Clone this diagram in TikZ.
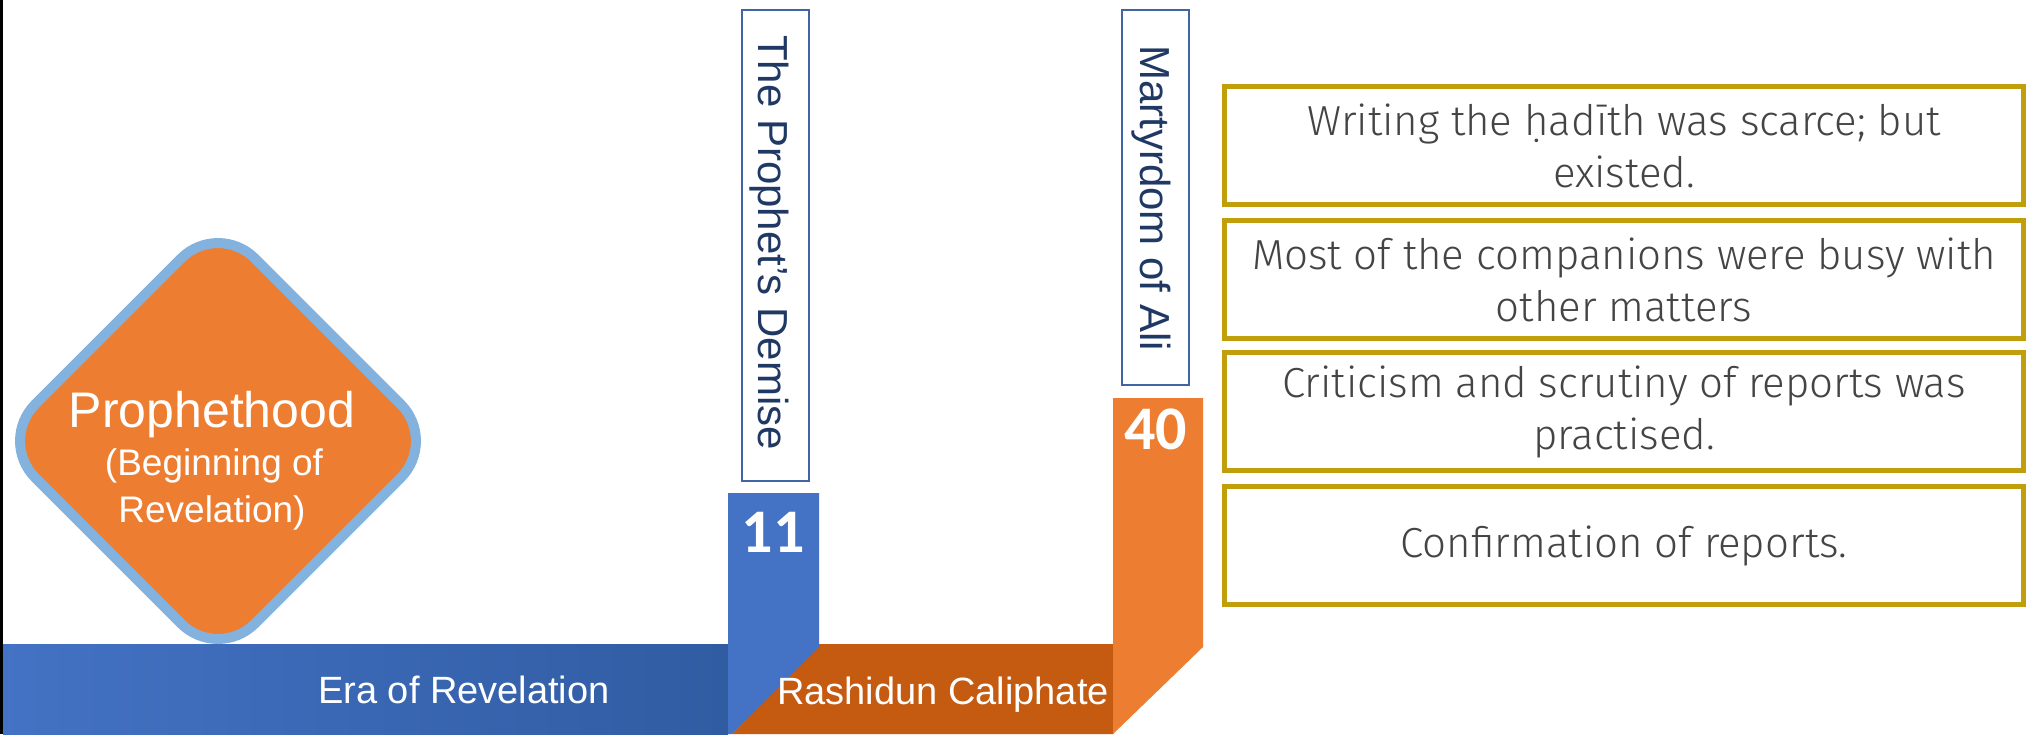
\documentclass[tikz,border=0pt]{standalone}
\usepackage{fontspec}
\setmainfont{Liberation Sans}
\newfontfamily\numfont{Carlito}
\IfFontExistsTF{Fira Sans Light}{\newfontfamily\lightfont{Fira Sans Light}}{\newfontfamily\lightfont{Liberation Sans}}
\definecolor{barblue}{RGB}{68,114,196}
\definecolor{bardark}{RGB}{48,92,162}
\definecolor{colblue}{RGB}{68,114,196}
\definecolor{rashbrown}{RGB}{197,90,17}
\definecolor{orng}{RGB}{237,125,49}
\definecolor{lblue}{RGB}{132,178,222}
\definecolor{goldline}{RGB}{192,158,12}
\definecolor{navytxt}{RGB}{31,56,100}
\definecolor{lboxline}{RGB}{65,100,165}
\definecolor{txtgray}{RGB}{68,68,68}
\begin{document}
\begin{tikzpicture}[x=1pt,y=-1pt,
  gbox/.style={draw=goldline, line width=5pt, minimum width=799pt, minimum height=118pt,
    align=center, text=txtgray, inner sep=0pt, font=\lightfont\fontsize{42}{52}\selectfont},
  labelbox/.style={draw=lboxline, line width=1.3pt, minimum width=67pt, inner sep=0pt},
  vlabel/.style={rotate=-90, anchor=base west, inner sep=0pt, text=navytxt, font=\fontsize{42}{50}\selectfont},
  numtxt/.style={anchor=base, inner sep=0pt, text=white, font=\numfont\bfseries\fontsize{62}{70}\selectfont},
  bartxt/.style={inner sep=0pt, text=white, font=\fontsize{38}{45}\selectfont},
  diamtxt/.style={anchor=base, inner sep=0pt, text=white}]
\useasboundingbox (0,0) rectangle (2034,734);
\fill[white] (0,0) rectangle (2034,734);
\fill[black] (0,0) rectangle (3,734);
% bars
\shade[left color=barblue, right color=bardark] (3,644) rectangle (728,734);
\fill[rashbrown] (819,644) -- (1113,644) -- (1113,734) -- (732,734) -- cycle;
\fill[colblue] (728,493) -- (819,493) -- (819,647) -- (732,734) -- (728,734) -- cycle;
\fill[orng] (1113,398) -- (1203,398) -- (1203,647) -- (1113,734) -- cycle;
% diamond
\draw[line width=10pt, draw=lblue, fill=orng, rounded corners=52pt, rotate around={45:(218,441)}]
  (62.8,285.8) rectangle (373.2,596.2);
\node[diamtxt, font=\fontsize{50}{60}\selectfont] (proph) at (212,427) {Prophethood};
\node[diamtxt, font=\fontsize{37}{44}\selectfont] (begin) at (214,475) {(Beginning of};
\node[diamtxt, font=\fontsize{37}{44}\selectfont] (revel) at (212,522) {Revelation)};
% vertical labels
\node[labelbox, minimum height=471pt] (demisebox) at (775.5,245.5) {};
\node[vlabel] (demise) at (758,35) {The Prophet’s Demise};
\node[labelbox, minimum height=375pt] (alibox) at (1155.5,197.5) {};
\node[vlabel] (ali) at (1140,45) {Martyrdom of Ali};
% numbers
\node[numtxt] (n11) at (773,552) {11};
\node[numtxt] (n40) at (1155.5,449) {40};
% bar texts
\node[bartxt, anchor=base] (era) at (464,703) {Era of Revelation};
\node[bartxt, anchor=base west] (rash) at (777,704) {Rashidun Caliphate};
% right boxes
\node[gbox] (b1) at (1624,145.5) {Writing the ḥadīth was scarce; but\\existed.};
\node[gbox] (b2) at (1624,279.5) {Most of the companions were busy with\\other matters};
\node[gbox] (b3) at (1624,411.5) {Criticism and scrutiny of reports was\\practised.};
\node[gbox] (b4) at (1624,545.5) {Confirmation of reports.};
\end{tikzpicture}
\end{document}
